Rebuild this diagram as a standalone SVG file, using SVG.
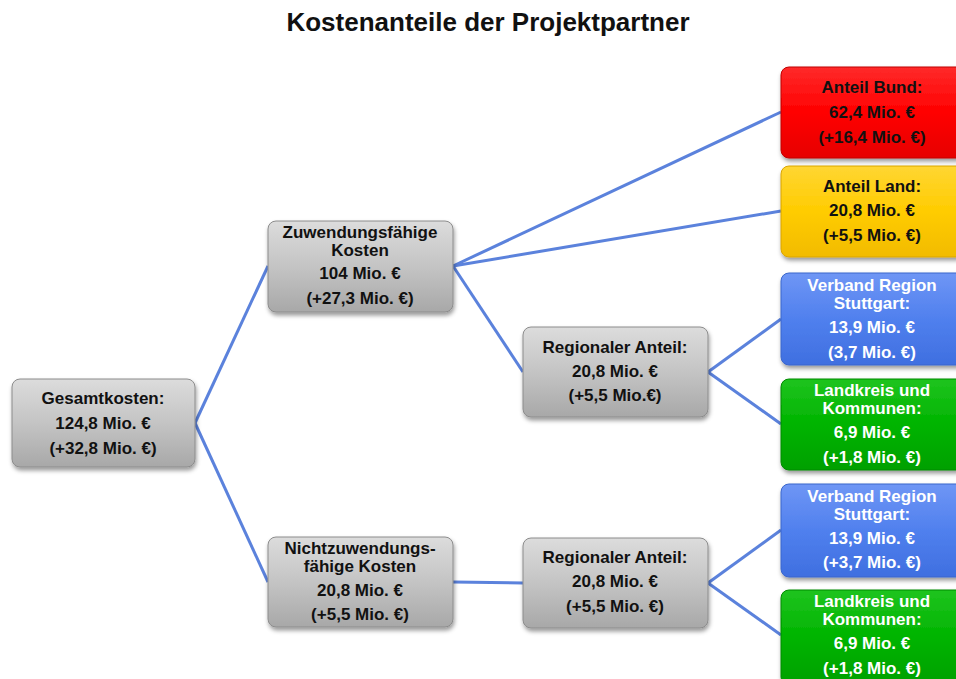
<svg xmlns="http://www.w3.org/2000/svg" width="956" height="679" viewBox="0 0 956 679">
<style>
text{font-family:"Liberation Sans",Arial,sans-serif;font-weight:bold;font-size:17px;text-anchor:middle}
.dk{fill:#111111}.wt{fill:#ffffff}
.box{stroke-width:1;filter:url(#sh)}
.gray{fill:url(#gGray);stroke:#8c8c8c}
.red{fill:url(#gRed);stroke:#c00000}
.yel{fill:url(#gYel);stroke:#d9a400}
.blu{fill:url(#gBlu);stroke:#3a66cc}
.grn{fill:url(#gGrn);stroke:#008a00}
.con line{stroke:#5b82dc;stroke-width:3;fill:none}
</style>
<defs>
<filter id="sh" x="-10%" y="-10%" width="130%" height="140%"><feDropShadow dx="1" dy="3" stdDeviation="2" flood-color="#000" flood-opacity="0.4"/></filter>
<linearGradient id="gGray" x1="0" y1="0" x2="0" y2="1"><stop offset="0" stop-color="#dcdcdc"/><stop offset="0.5" stop-color="#c4c4c4"/><stop offset="1" stop-color="#a8a8a8"/></linearGradient>
<linearGradient id="gRed" x1="0" y1="0" x2="0" y2="1"><stop offset="0" stop-color="#ff2a2a"/><stop offset="0.5" stop-color="#ff0000"/><stop offset="1" stop-color="#e60000"/></linearGradient>
<linearGradient id="gYel" x1="0" y1="0" x2="0" y2="1"><stop offset="0" stop-color="#ffd633"/><stop offset="0.5" stop-color="#ffcc00"/><stop offset="1" stop-color="#f2bb00"/></linearGradient>
<linearGradient id="gBlu" x1="0" y1="0" x2="0" y2="1"><stop offset="0" stop-color="#6f96f5"/><stop offset="0.5" stop-color="#5080ee"/><stop offset="1" stop-color="#3f6fe0"/></linearGradient>
<linearGradient id="gGrn" x1="0" y1="0" x2="0" y2="1"><stop offset="0" stop-color="#1fc41f"/><stop offset="0.5" stop-color="#00b400"/><stop offset="1" stop-color="#00a000"/></linearGradient>
</defs>
<rect width="956" height="679" fill="#ffffff"/>
<text x="488" y="31" style="font-size:26px" class="dk">Kostenanteile der Projektpartner</text>
<g class="con" id="connectors">
<line x1="195" y1="423" x2="268" y2="266"/>
<line x1="195" y1="423" x2="268" y2="582"/>
<line x1="453" y1="266" x2="781" y2="112"/>
<line x1="453" y1="266" x2="781" y2="211"/>
<line x1="453" y1="266" x2="523" y2="372"/>
<line x1="708" y1="372" x2="781" y2="319"/>
<line x1="708" y1="372" x2="781" y2="424"/>
<line x1="453" y1="582" x2="523" y2="583"/>
<line x1="708" y1="583" x2="781" y2="530"/>
<line x1="708" y1="583" x2="781" y2="635"/>
</g>
<g id="gesamt"><rect class="box gray" x="12" y="379" width="183" height="88" rx="8"/>
<text class="dk" x="103" y="404">Gesamtkosten:</text><text class="dk" x="103" y="429">124,8 Mio. €</text><text class="dk" x="103" y="454">(+32,8 Mio. €)</text></g>
<g id="zuwendung"><rect class="box gray" x="268" y="221" width="185" height="91" rx="8"/>
<text class="dk" x="360" y="238">Zuwendungsfähige</text><text class="dk" x="360" y="256">Kosten</text><text class="dk" x="360" y="279">104 Mio. €</text><text class="dk" x="360" y="304">(+27,3 Mio. €)</text></g>
<g id="nichtzuwendung"><rect class="box gray" x="268" y="537" width="185" height="90" rx="8"/>
<text class="dk" x="360" y="554">Nichtzuwendungs-</text><text class="dk" x="360" y="572">fähige Kosten</text><text class="dk" x="360" y="596">20,8 Mio. €</text><text class="dk" x="360" y="620">(+5,5 Mio. €)</text></g>
<g id="regional1"><rect class="box gray" x="523" y="327" width="185" height="90" rx="8"/>
<text class="dk" x="615" y="353">Regionaler Anteil:</text><text class="dk" x="615" y="377">20,8 Mio. €</text><text class="dk" x="615" y="401">(+5,5 Mio.€)</text></g>
<g id="regional2"><rect class="box gray" x="523" y="538" width="185" height="90" rx="8"/>
<text class="dk" x="615" y="563">Regionaler Anteil:</text><text class="dk" x="615" y="587">20,8 Mio. €</text><text class="dk" x="615" y="612">(+5,5 Mio. €)</text></g>
<g id="bund"><rect class="box red" x="781" y="67" width="184" height="91" rx="8"/>
<text class="dk" x="872" y="93">Anteil Bund:</text><text class="dk" x="872" y="118">62,4 Mio. €</text><text class="dk" x="872" y="143">(+16,4 Mio. €)</text></g>
<g id="land"><rect class="box yel" x="781" y="166" width="184" height="91" rx="8"/>
<text class="dk" x="872" y="192">Anteil Land:</text><text class="dk" x="872" y="216">20,8 Mio. €</text><text class="dk" x="872" y="241">(+5,5 Mio. €)</text></g>
<g id="verband1"><rect class="box blu" x="781" y="273" width="184" height="92" rx="8"/>
<text class="wt" x="872" y="291">Verband Region</text><text class="wt" x="872" y="309">Stuttgart:</text><text class="wt" x="872" y="333">13,9 Mio. €</text><text class="wt" x="872" y="358">(3,7 Mio. €)</text></g>
<g id="landkreis1"><rect class="box grn" x="781" y="379" width="184" height="91" rx="8"/>
<text class="wt" x="872" y="396">Landkreis und</text><text class="wt" x="872" y="414">Kommunen:</text><text class="wt" x="872" y="438">6,9 Mio. €</text><text class="wt" x="872" y="463">(+1,8 Mio. €)</text></g>
<g id="verband2"><rect class="box blu" x="781" y="484" width="184" height="93" rx="8"/>
<text class="wt" x="872" y="502">Verband Region</text><text class="wt" x="872" y="520">Stuttgart:</text><text class="wt" x="872" y="544">13,9 Mio. €</text><text class="wt" x="872" y="568">(+3,7 Mio. €)</text></g>
<g id="landkreis2"><rect class="box grn" x="781" y="590" width="184" height="95" rx="8"/>
<text class="wt" x="872" y="607">Landkreis und</text><text class="wt" x="872" y="625">Kommunen:</text><text class="wt" x="872" y="649">6,9 Mio. €</text><text class="wt" x="872" y="674">(+1,8 Mio. €)</text></g>
</svg>
